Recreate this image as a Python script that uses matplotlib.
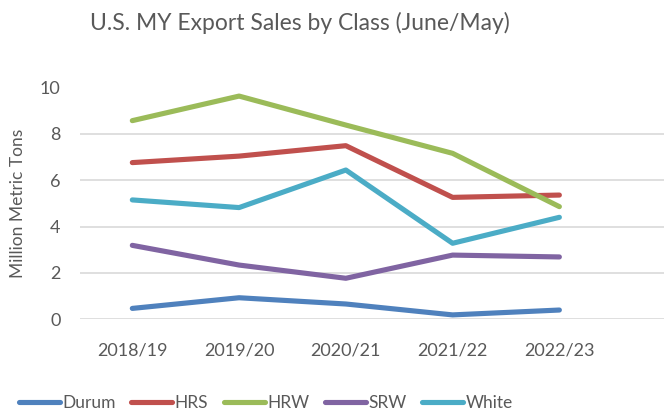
import matplotlib.pyplot as plt

years = ["2018/19", "2019/20", "2020/21", "2021/22", "2022/23"]
durum = [0.47, 0.93, 0.66, 0.19, 0.40]
hrs = [6.76, 7.04, 7.49, 5.26, 5.36]
hrw = [8.57, 9.63, 8.38, 7.16, 4.86]
srw = [3.19, 2.34, 1.77, 2.77, 2.69]
white = [5.15, 4.82, 6.44, 3.28, 4.40]

series = [("Durum", durum, "#4F81BD"),
          ("HRS", hrs, "#C0504D"),
          ("HRW", hrw, "#9BBB59"),
          ("SRW", srw, "#8064A2"),
          ("White", white, "#4BACC6")]

plt.rcParams['font.family'] = ['Lato', 'DejaVu Sans']
txt = "#595959"

fig = plt.figure(figsize=(6.64, 4.15), dpi=100)
ax = fig.add_axes([80 / 664, 1 - 319.3 / 415, 1 - 80 / 664, (319.3 - 87.5) / 415])

x = list(range(len(years)))
for name, vals, col in series:
    ax.plot(x, vals, color=col, lw=3.7, label=name, solid_capstyle='round', clip_on=False)

ax.set_xlim(-0.49, 4.98)
ax.set_ylim(0, 10)
ax.set_yticks(range(0, 11, 2))
ax.set_xticks(x)
ax.set_xticklabels(years)
ax.grid(axis='y', color="#D9D9D9", lw=1.2)
ax.set_axisbelow(True)
for s in ax.spines.values():
    s.set_visible(False)
ax.tick_params(axis='both', length=0, labelsize=13, colors=txt)
ax.tick_params(axis='y', pad=14)
ax.tick_params(axis='x', pad=17)
ax.set_ylabel("Million Metric Tons", fontsize=12.5, color=txt, labelpad=10)

fig.text(300 / 664, 1 - 23 / 415, "U.S. MY Export Sales by Class (June/May)",
         ha='center', va='center', fontsize=16.5, color=txt)

fig.legend(loc='center', bbox_to_anchor=(266 / 664, 1 - 403 / 415), ncol=5,
           frameon=False, fontsize=12.5, handlelength=2.35, handletextpad=0.15,
           columnspacing=0.9, labelcolor=txt)

fig.savefig("out.png", dpi=100)
